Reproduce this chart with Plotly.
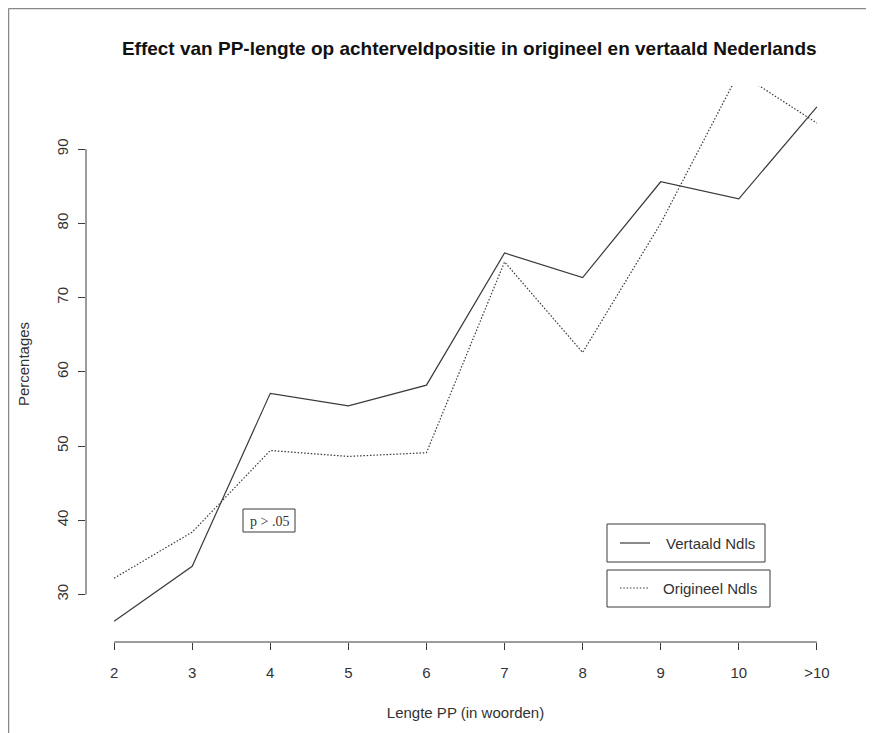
import plotly.graph_objects as go

# ---- data ----
lengths = ["2", "3", "4", "5", "6", "7", "8", "9", "10", ">10"]
vertaald = [26.4, 33.8, 57.1, 55.4, 58.2, 76.0, 72.7, 85.6, 83.3, 95.7]
origineel = [32.2, 38.4, 49.4, 48.6, 49.1, 74.8, 62.6, 80.0, 100.3, 93.5]
y_ticks = [30, 40, 50, 60, 70, 80, 90]

OFF = 8  # page body margin
W, H = 874 - OFF, 733 - OFF
L, T = 86 - OFF, 86 - OFF
R = W - (845 - OFF)
B = H - (642 - OFF)
PW, PH = W - L - R, H - T - B


def px(xs_):
    return (xs_ - OFF - L) / PW


def py(ys_):
    return (H - B - (ys_ - OFF)) / PH


xs = list(range(len(lengths)))
ink = "#3a3a3a"
fine_dot = "1.5px,1.8px"

fig = go.Figure()
fig.add_trace(go.Scatter(x=xs, y=vertaald, mode="lines", name="Vertaald Ndls",
                         line=dict(color=ink, width=1.2), showlegend=False))
fig.add_trace(go.Scatter(x=xs, y=origineel, mode="lines", name="Origineel Ndls",
                         line=dict(color=ink, width=1.2, dash=fine_dot), showlegend=False))

font = "Liberation Sans, Arial, sans-serif"
FS = 15

fig.update_layout(
    width=W, height=H,
    margin=dict(l=L, r=R, t=T, b=B),
    paper_bgcolor="white", plot_bgcolor="white",
    title=dict(text="<b>Effect van PP-lengte op achterveldpositie in origineel en vertaald Nederlands</b>",
               x=0.505, xref="paper", y=1 - (48 - OFF) / H, yref="container", yanchor="middle",
               font=dict(family=font, size=19, color="#111")),
    xaxis=dict(range=[-0.36, 9.36], tickvals=xs, ticktext=lengths,
               showgrid=False, zeroline=False, showline=False,
               ticks="outside", ticklen=7, tickcolor=ink, tickwidth=1,
               ticklabelstandoff=10,
               tickfont=dict(family=font, size=FS, color="#333"),
               title=dict(text="Lengte PP (in woorden)", standoff=27,
                          font=dict(family=font, size=FS, color="#333"))),
    yaxis=dict(range=[23.6, 98.5], tickvals=y_ticks,
               showgrid=False, zeroline=False, showline=False,
               ticks="outside", ticklen=7, tickcolor=ink, tickwidth=1, tickangle=-90,
               ticklabelstandoff=4,
               tickfont=dict(family=font, size=FS, color="#333"),
               title=dict(text="Percentages", standoff=20,
                          font=dict(family=font, size=FS, color="#333"))),
)

shapes = []
# R-style axis lines (first to last tick only)
shapes.append(dict(type="line", xref="x", yref="paper", x0=xs[0], x1=xs[-1], y0=0, y1=0,
                   line=dict(color=ink, width=1)))
shapes.append(dict(type="line", xref="paper", yref="y", x0=0, x1=0, y0=y_ticks[0], y1=y_ticks[-1],
                   line=dict(color=ink, width=1)))
# outer frame (top and left)
shapes.append(dict(type="line", xref="paper", yref="paper", x0=px(8.5), x1=px(880), y0=py(8.5), y1=py(8.5),
                   line=dict(color="#888", width=1.5)))
shapes.append(dict(type="line", xref="paper", yref="paper", x0=px(8.5), x1=px(8.5), y0=py(8.5), y1=py(740),
                   line=dict(color="#888", width=1.5)))
# legend boxes
shapes.append(dict(type="rect", xref="paper", yref="paper", x0=px(607), x1=px(765), y0=py(562), y1=py(524),
                   line=dict(color=ink, width=1)))
shapes.append(dict(type="rect", xref="paper", yref="paper", x0=px(607), x1=px(770), y0=py(607), y1=py(570),
                   line=dict(color=ink, width=1)))
shapes.append(dict(type="line", xref="paper", yref="paper", x0=px(620), x1=px(650), y0=py(543), y1=py(543),
                   line=dict(color=ink, width=1.2)))
shapes.append(dict(type="line", xref="paper", yref="paper", x0=px(620), x1=px(649), y0=py(588), y1=py(588),
                   line=dict(color=ink, width=1.2, dash=fine_dot)))
# p box
shapes.append(dict(type="rect", xref="paper", yref="paper", x0=px(243), x1=px(295), y0=py(532), y1=py(509),
                   line=dict(color=ink, width=1)))
fig.update_layout(shapes=shapes)

fig.add_annotation(xref="paper", yref="paper", x=px(664), y=py(543), xanchor="left", yanchor="middle",
                   text="Vertaald Ndls", showarrow=False, font=dict(family=font, size=FS, color="#333"))
fig.add_annotation(xref="paper", yref="paper", x=px(661), y=py(588), xanchor="left", yanchor="middle",
                   text="Origineel Ndls", showarrow=False, font=dict(family=font, size=FS, color="#333"))
fig.add_annotation(xref="paper", yref="paper", x=px(269), y=py(521), xanchor="center", yanchor="middle",
                   text="p > .05", showarrow=False,
                   font=dict(family="Liberation Serif, Times New Roman, serif", size=14, color="#333"))

fig.write_html("out.html")
